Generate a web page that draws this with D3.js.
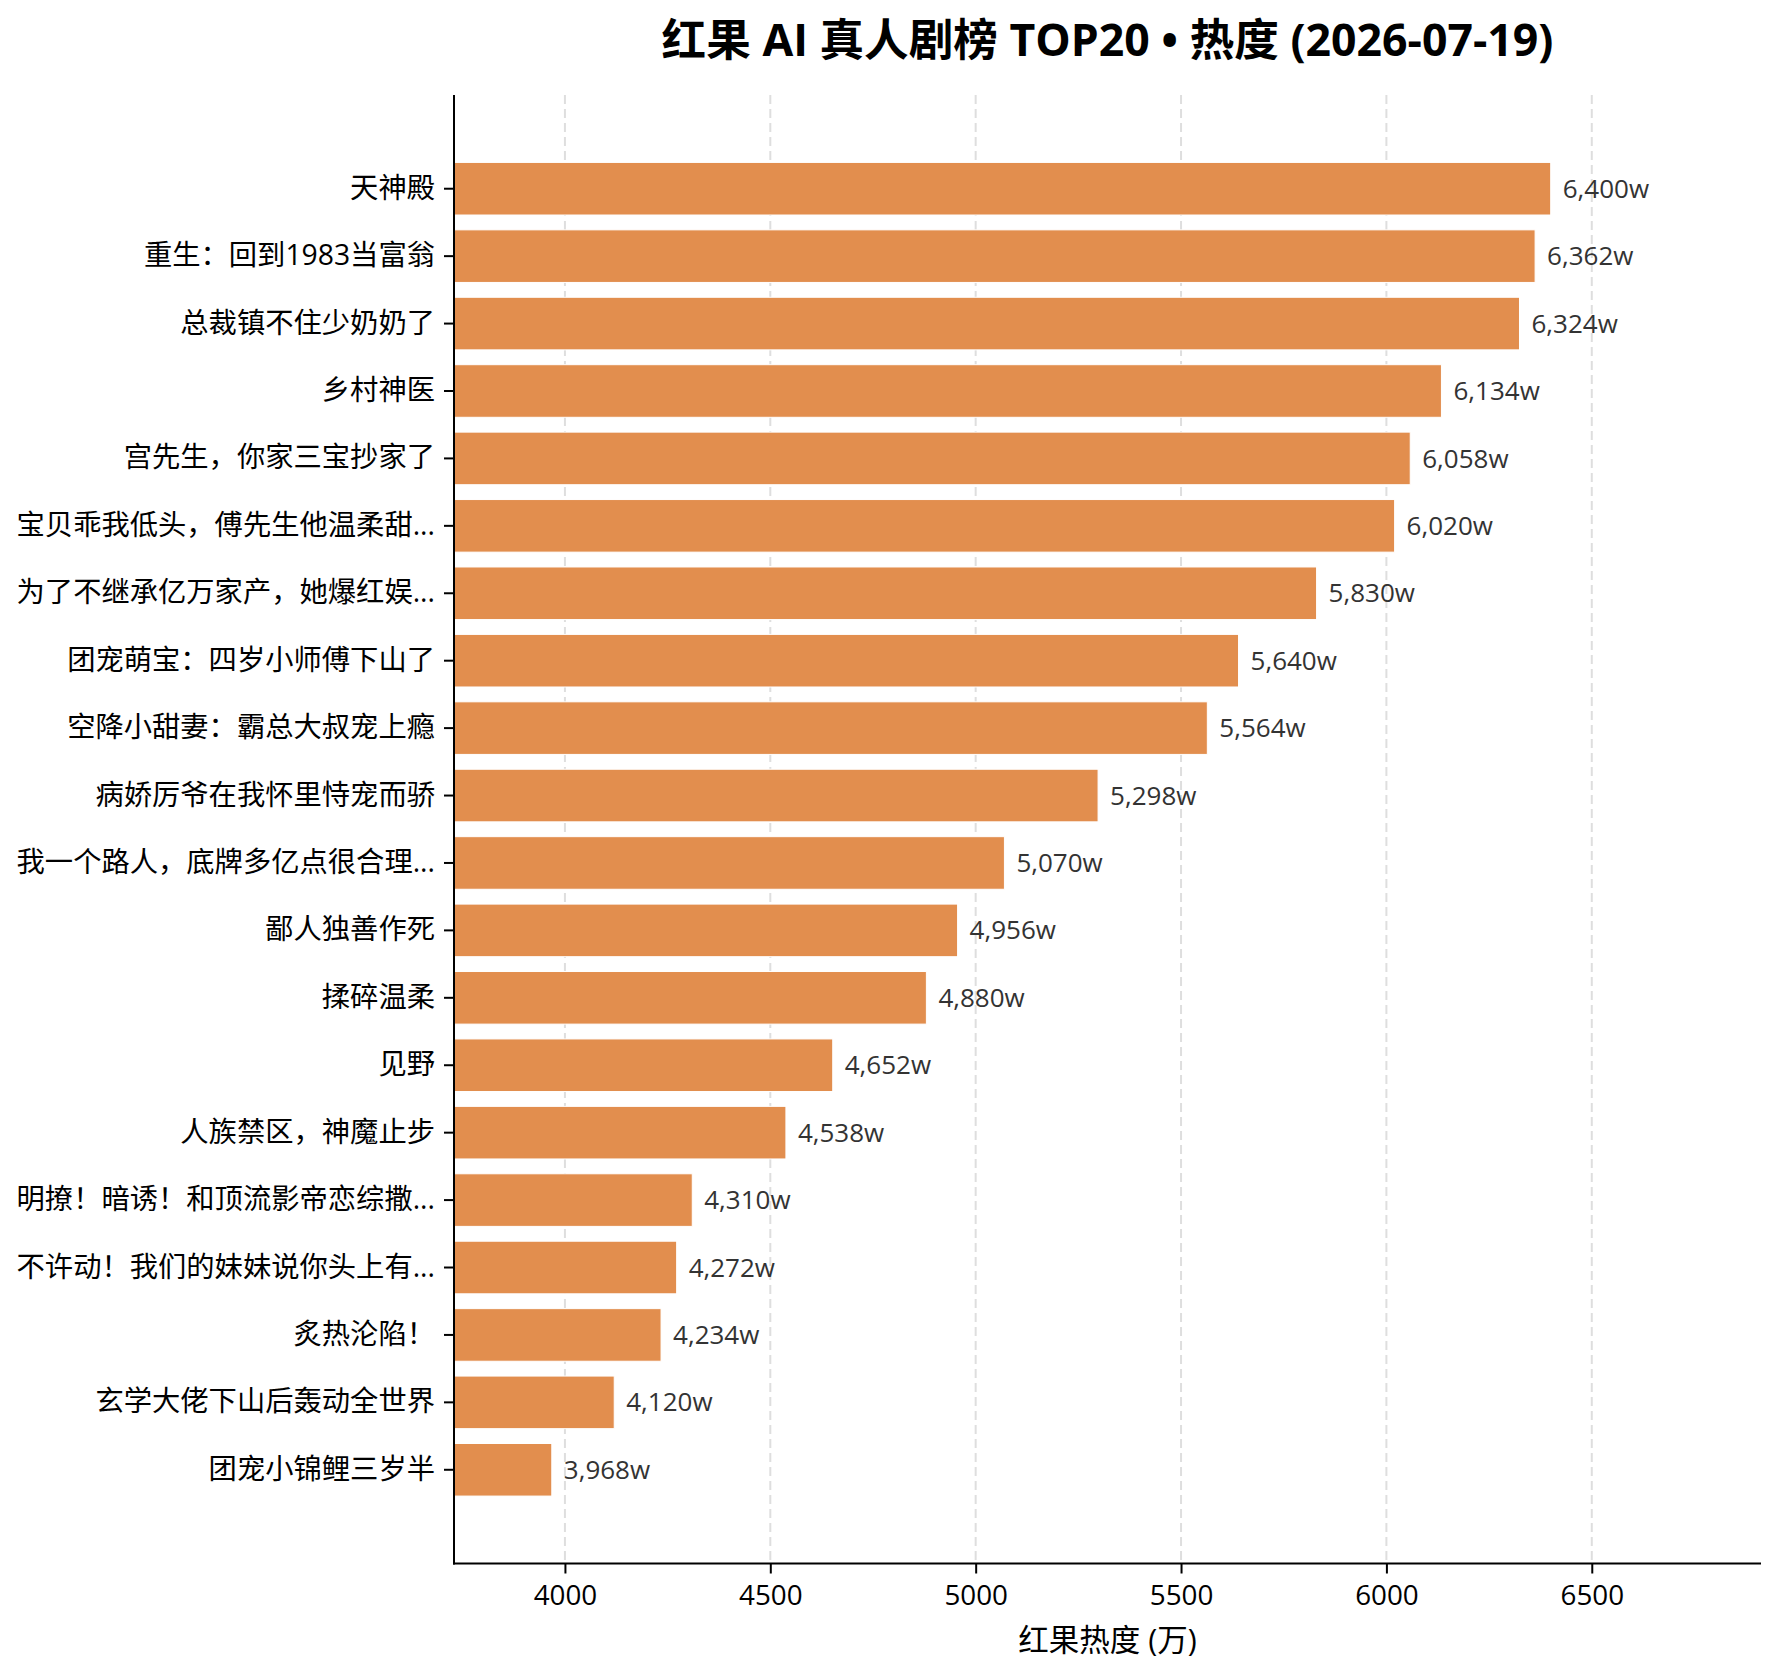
<!DOCTYPE html>
<html>
<head>
<meta charset="utf-8">
<script src="https://cdn.jsdelivr.net/npm/d3@7"></script>
<style>
  body { margin: 0; background: #fff; }
  svg { display: block; }
  .lat { font-family: "Open Sans", "Noto Sans CJK SC", sans-serif; }
</style>
</head>
<body>
<svg id="chart" width="1779" height="1679"></svg>
<script>
// drama titles, top to bottom
const dramas = [
  "天神殿",
  "重生：回到1983当富翁",
  "总裁镇不住少奶奶了",
  "乡村神医",
  "宫先生，你家三宝抄家了",
  "宝贝乖我低头，傅先生他温柔甜...",
  "为了不继承亿万家产，她爆红娱...",
  "团宠萌宝：四岁小师傅下山了",
  "空降小甜妻：霸总大叔宠上瘾",
  "病娇厉爷在我怀里恃宠而骄",
  "我一个路人，底牌多亿点很合理...",
  "鄙人独善作死",
  "揉碎温柔",
  "见野",
  "人族禁区，神魔止步",
  "明撩！暗诱！和顶流影帝恋综撒...",
  "不许动！我们的妹妹说你头上有...",
  "炙热沦陷！",
  "玄学大佬下山后轰动全世界",
  "团宠小锦鲤三岁半"
];
// heat in 万
const heat = [6400, 6362, 6324, 6134, 6058, 6020, 5830, 5640, 5564, 5298,
              5070, 4956, 4880, 4652, 4538, 4310, 4272, 4234, 4120, 3968];
const xTicks = [4000, 4500, 5000, 5500, 6000, 6500];

const titleText = "红果 AI 真人剧榜 TOP20 • 热度 (2026-07-19)";
const xLabelText = "红果热度 (万)";

const barColor = "#e28e4e";
const margin = {left: 454, right: 18, top: 95, bottom: 115.5};

const svg = d3.select("#chart");
const width = +svg.attr("width");
const height = +svg.attr("height");

svg.append("rect").attr("width", width).attr("height", height).attr("fill", "#fff");

const rows = dramas.map((name, i) => ({name, value: heat[i]}));

const x = d3.scaleLinear()
  .domain([d3.min(heat) * 0.94, d3.max(heat) * 1.08])
  .range([margin.left, width - margin.right]);

const y = d3.scaleBand()
  .domain(dramas)
  .range([margin.top, height - margin.bottom])
  .paddingInner(0.22)
  .paddingOuter(1.0);

// dashed vertical grid
svg.append("g")
  .selectAll("line").data(xTicks)
  .enter().append("line")
    .attr("x1", d => x(d)).attr("x2", d => x(d))
    .attr("y1", margin.top).attr("y2", height - margin.bottom)
    .attr("stroke", "#dedede")
    .attr("stroke-width", 2)
    .attr("stroke-dasharray", "9,5");

// bars
svg.append("g")
  .selectAll("rect").data(rows)
  .enter().append("rect")
    .attr("x", x.range()[0])
    .attr("y", d => y(d.name))
    .attr("width", d => x(d.value) - x.range()[0])
    .attr("height", y.bandwidth())
    .attr("fill", barColor)
    .attr("stroke", "#fff")
    .attr("stroke-width", 1);

// value labels
const fmt = d3.format(",");
svg.append("g")
  .selectAll("text").data(rows)
  .enter().append("text")
    .attr("class", "lat")
    .attr("x", d => x(d.value) + 12)
    .attr("y", d => y(d.name) + y.bandwidth() / 2)
    .attr("dy", "0.35em")
    .attr("font-size", 26)
    .attr("fill", "#333")
    .text(d => fmt(d.value) + "w");

// y axis
const yAxis = svg.append("g")
  .attr("transform", `translate(${margin.left},0)`)
  .call(d3.axisLeft(y).tickSize(10).tickPadding(9));
yAxis.select(".domain").remove();
yAxis.selectAll(".tick line").attr("stroke", "#000").attr("stroke-width", 2);
yAxis.selectAll(".tick text")
  .attr("class", "lat")
  .attr("font-size", 28.3)
  .attr("fill", "#000");

// x axis
const xAxis = svg.append("g")
  .attr("transform", `translate(0,${height - margin.bottom})`)
  .call(d3.axisBottom(x).tickValues(xTicks).tickFormat(d3.format("d")).tickSize(10).tickPadding(12));
xAxis.select(".domain").remove();
xAxis.selectAll(".tick line").attr("stroke", "#000").attr("stroke-width", 2);
xAxis.selectAll(".tick text")
  .attr("class", "lat")
  .attr("font-size", 27.8)
  .attr("fill", "#000");

// spines: left + bottom
svg.append("line")
  .attr("x1", margin.left).attr("x2", margin.left)
  .attr("y1", margin.top).attr("y2", height - margin.bottom + 1)
  .attr("stroke", "#000").attr("stroke-width", 2);
svg.append("line")
  .attr("x1", margin.left - 1).attr("x2", width - margin.right)
  .attr("y1", height - margin.bottom).attr("y2", height - margin.bottom)
  .attr("stroke", "#000").attr("stroke-width", 2);

// title + x label
const midX = (x.range()[0] + x.range()[1]) / 2;
svg.append("text")
  .attr("class", "lat")
  .attr("x", midX)
  .attr("y", 40)
  .attr("dy", "0.35em")
  .attr("text-anchor", "middle")
  .attr("font-size", 44.6)
  .attr("font-weight", "bold")
  .attr("fill", "#000")
  .text(titleText);

svg.append("text")
  .attr("class", "lat")
  .attr("x", midX)
  .attr("y", 1640)
  .attr("dy", "0.35em")
  .attr("text-anchor", "middle")
  .attr("font-size", 30.5)
  .attr("fill", "#000")
  .text(xLabelText);
</script>
</body>
</html>
